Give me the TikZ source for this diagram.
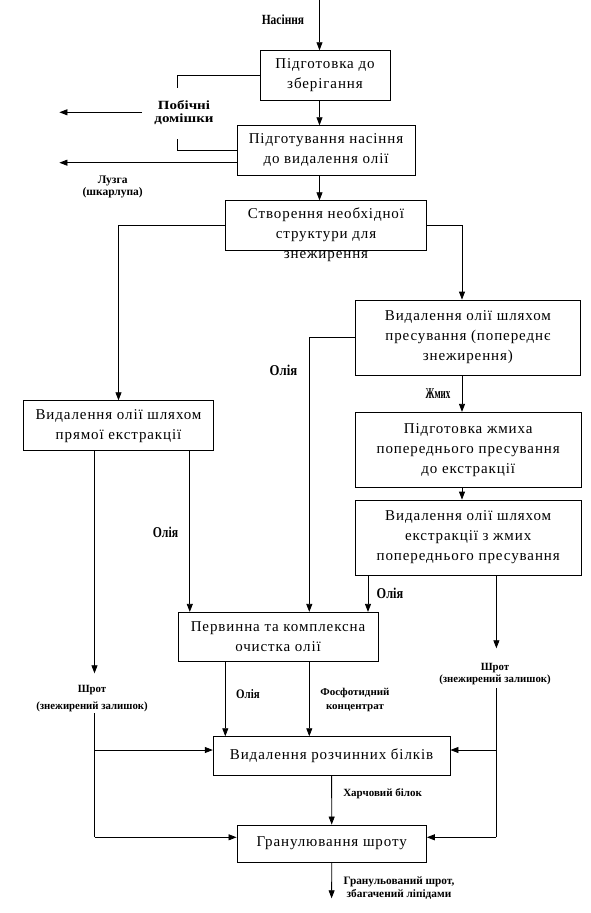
\documentclass[tikz,border=0pt]{standalone}
\usepackage{fontspec}
\setmainfont{Liberation Serif}
\usetikzlibrary{arrows.meta}
\newfontfamily\boxfam{Liberation Serif}[LetterSpace=6]
\newcommand\boxfont{\boxfam\fontsize{15}{20}\selectfont}
% label font: size, line skip, horizontal stretch
\newcommand\labfont[3]{\fontspec{Liberation Serif Bold}[FakeStretch=#3]\fontsize{#1}{#2}\selectfont}
\tikzset{
  pbox/.style={draw, line width=0.8pt, inner sep=0pt, align=center, font=\boxfont},
  lbl/.style={inner sep=0pt, align=center},
  ln/.style={line width=0.8pt},
  arr/.style={line width=0.8pt, -{Triangle[length=8pt,width=6pt]}}
}
\begin{document}
\begin{tikzpicture}[x=1pt,y=-1pt]
\useasboundingbox (0,0) rectangle (591,913);
% boxes
\node[pbox, minimum width=130, minimum height=49.3] (b1) at (325,75.3) {Підготовка до\\зберігання};
\node[pbox, minimum width=178, minimum height=49.3] (b2) at (326,150.3) {Підготування насіння\\до видалення олії};
\node[pbox, minimum width=201.2, minimum height=49.6] (b3) at (325.9,225.5) {};
\node[lbl, font=\boxfont] (t3) at (326,235) {Створення необхідної\\структури для\\знежирення};
\node[pbox, minimum width=225, minimum height=75] (b5) at (467.9,337.5) {Видалення олії шляхом\\пресування (попереднє\\знежирення)};
\node[pbox, minimum width=190.2, minimum height=50] (b4) at (118.5,425.7) {Видалення олії шляхом\\прямої екстракції};
\node[pbox, minimum width=225.6, minimum height=75] (b6) at (468.2,449.8) {Підготовка жмиха\\попереднього пресування\\до екстракції};
\node[pbox, minimum width=225.6, minimum height=75] (b7) at (468.2,537.5) {Видалення олії шляхом\\екстракції з жмих\\попереднього пресування};
\node[pbox, minimum width=200, minimum height=49.4] (b8) at (278,637) {Первинна та комплексна\\очистка олії};
\node[pbox, minimum width=236.8, minimum height=38.3] (b9) at (331.6,755.8) {Видалення розчинних білків};
\node[pbox, minimum width=189.5, minimum height=37.3] (b10) at (331.7,843.6) {Гранулювання шроту};
% labels
\node[lbl, font=\labfont{14}{16}{0.82}] (lNas) at (283,20) {Насіння};
\node[lbl, font=\labfont{12.5}{13}{1.2}] (lPob) at (184,112.7) {Побічні\\домішки};
\node[lbl, font=\labfont{11.5}{12}{1.0}] (lLuz) at (112.7,187) {Лузга\\(шкарлупа)};
\node[lbl, font=\labfont{15}{16}{0.85}] (lOl1) at (283.5,370) {Олія};
\node[lbl, font=\labfont{15}{16}{0.6}] (lZh) at (438,394) {Жмих};
\node[lbl, font=\labfont{15}{16}{0.78}] (lOl2) at (165.5,532) {Олія};
\node[lbl, font=\labfont{15}{16}{0.82}] (lOl3) at (390,593) {Олія};
\node[lbl, font=\labfont{11}{17.3}{0.98}] (lShL) at (92,698.6) {Шрот\\(знежирений залишок)};
\node[lbl, font=\labfont{11}{12}{0.98}] (lShR) at (495,674) {Шрот\\(знежирений залишок)};
\node[lbl, font=\labfont{13}{14}{0.84}] (lOl4) at (248,694) {Олія};
\node[lbl, font=\labfont{10.5}{13.4}{1.05}] (lFos) at (355,700) {Фосфотидний\\концентрат};
\node[lbl, font=\labfont{11}{12}{1.0}] (lHar) at (382.6,793.3) {Харчовий білок};
\node[lbl, font=\labfont{11.3}{12.3}{1.0}] (lGr) at (399,888) {Гранульований шрот,\\збагачений ліпідами};
% coordinates
\coordinate (top) at (319.5,0);
\coordinate (s1) at (177.7,88);
\coordinate (s2) at (177.7,139);
\coordinate (pA) at (142,112.3);
\coordinate (pB) at (59.4,112.3);
\coordinate (l2) at (59.4,162.7);
\coordinate (cR) at (462,0);
\coordinate (cO) at (309.3,0);
\coordinate (xL) at (94.5,0);
\coordinate (xM) at (189.8,0);
\coordinate (xO7) at (368,0);
\coordinate (xR) at (496.4,0);
\coordinate (xO8) at (225.3,0);
\coordinate (shL1) at (94.5,673.3);
\coordinate (shL2) at (94.5,713);
\coordinate (shR1) at (496.4,648.3);
\coordinate (shR2) at (496.4,688);
\coordinate (yB9) at (0,750);
\coordinate (yB10) at (0,837.3);
\coordinate (out) at (331.6,898.3);
% connectors
\draw[arr] (top) -- (top |- b1.north);
\draw[arr] (top |- b1.south) -- (top |- b2.north);
\draw[arr] (top |- b2.south) -- (top |- b3.north);
\draw[ln] (b1.west) -| (s1);
\draw[ln] (b2.west) -| (s2);
\draw[arr] (pA) -- (pB);
\draw[arr] (l2 -| b2.west) -- (l2);
\draw[arr] (b3.west) -| (b4.north);
\draw[arr] (b3.east) -| (cR |- b5.north);
\draw[arr] (cR |- b5.south) -- (cR |- b6.north);
\draw[arr] (cR |- b6.south) -- (cR |- b7.north);
\draw[arr] (b5.west) -| (cO |- b8.north);
\draw[arr] (xL |- b4.south) -- (shL1);
\draw[arr] (xM |- b4.south) -- (xM |- b8.north);
\draw[arr] (xO7 |- b7.south) -- (xO7 |- b8.north);
\draw[arr] (xR |- b7.south) -- (shR1);
\draw[arr] (xO8 |- b8.south) -- (xO8 |- b9.north);
\draw[arr] (cO |- b8.south) -- (cO |- b9.north);
\draw[ln] (shL2) -- (xL |- yB10);
\draw[ln] (shR2) -- (xR |- yB10);
\draw[arr] (xL |- yB9) -- (b9.west |- yB9);
\draw[arr] (xR |- yB9) -- (b9.east |- yB9);
\draw[arr] (xL |- yB10) -- (b10.west |- yB10);
\draw[arr] (xR |- yB10) -- (b10.east |- yB10);
\draw[arr] (b9.south) -- (b10.north);
\draw[arr] (b10.south) -- (out);
\end{tikzpicture}
\end{document}
